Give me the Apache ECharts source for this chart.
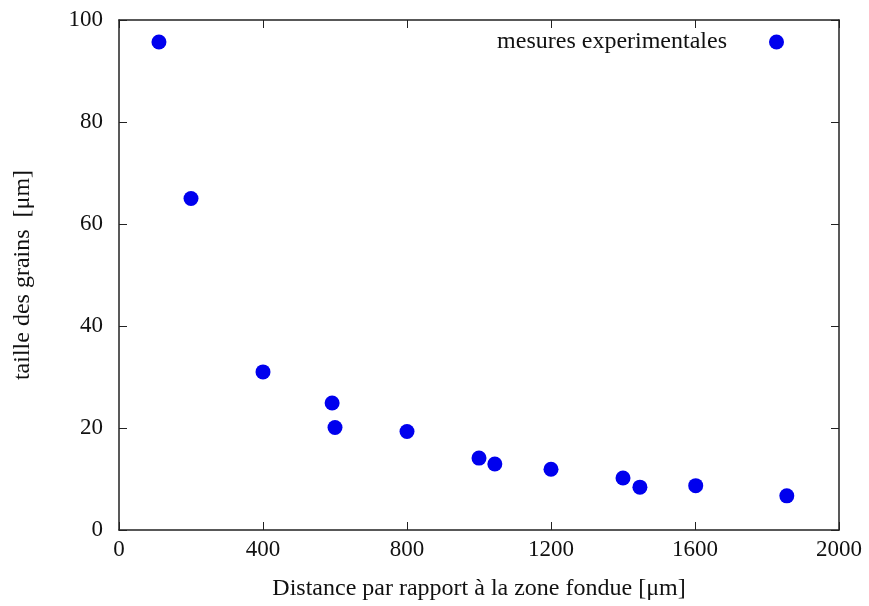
<!DOCTYPE html>
<html lang="fr">
<head>
    <meta charset="UTF-8">
    <title>taille des grains</title>
    <script src="https://cdn.jsdelivr.net/npm/echarts@6/dist/echarts.min.js"></script>
    <style>
        html, body { margin: 0; padding: 0; background: #fff; }
        #chart { width: 869px; height: 606px; }
    </style>
</head>
<body>
    <div id="chart"></div>
    <script>
        // distance a la zone fondue (um) et taille des grains (um)
        var distance = [111, 200, 400, 592, 600, 800, 1000, 1044, 1200, 1400, 1447, 1602, 1855];
        var taille   = [95.7, 65.0, 31.0, 24.9, 20.1, 19.3, 14.1, 12.95, 11.9, 10.2, 8.4, 8.7, 6.7];
        var xTicks = [0, 400, 800, 1200, 1600, 2000];
        var yTicks = [0, 20, 40, 60, 80, 100];

        var points = distance.map(function (d, i) { return [d, taille[i]]; });

        var font = "'Liberation Serif', 'DejaVu Serif', serif";
        var line = { show: true, onZero: false, lineStyle: { color: '#222', width: 1.5 } };
        var tick = { show: true, inside: true, length: 8, lineStyle: { color: '#222', width: 1 } };
        var plain = function (v) { return String(v); };

        var chart = echarts.init(document.getElementById('chart'));
        chart.setOption({
            animation: false,
            backgroundColor: '#fff',
            grid: { left: 119, right: 30, top: 20, bottom: 74 },
            legend: {
                data: ['mesures experimentales'],
                right: 80,
                top: 25,
                align: 'right',
                itemWidth: 15,
                itemHeight: 15,
                textStyle: { fontFamily: font, fontSize: 24, color: '#111', padding: [0, 37, 0, 0] }
            },
            xAxis: [{
                type: 'value', min: xTicks[0], max: xTicks[xTicks.length - 1], interval: 400,
                name: 'Distance par rapport à la zone fondue [μm]',
                nameLocation: 'middle', nameGap: 47,
                nameTextStyle: { fontFamily: font, fontSize: 24, color: '#111' },
                axisLine: line, axisTick: tick, splitLine: { show: false },
                axisLabel: { fontFamily: font, fontSize: 23, color: '#111', margin: 8, formatter: plain }
            }, {
                type: 'value', position: 'top', min: xTicks[0], max: xTicks[xTicks.length - 1], interval: 400,
                axisLine: line, axisTick: tick, splitLine: { show: false }, axisLabel: { show: false }
            }],
            yAxis: [{
                type: 'value', min: yTicks[0], max: yTicks[yTicks.length - 1], interval: 20,
                name: 'taille des grains  [μm]',
                nameLocation: 'middle', nameGap: 84,
                nameTextStyle: { fontFamily: font, fontSize: 24, color: '#111' },
                axisLine: line, axisTick: tick, splitLine: { show: false },
                axisLabel: { fontFamily: font, fontSize: 23, color: '#111', margin: 16, formatter: plain }
            }, {
                type: 'value', position: 'right', min: yTicks[0], max: yTicks[yTicks.length - 1], interval: 20,
                axisLine: line, axisTick: tick, splitLine: { show: false }, axisLabel: { show: false }
            }],
            series: [{
                name: 'mesures experimentales',
                type: 'scatter',
                data: points,
                symbol: 'circle',
                symbolSize: 15,
                itemStyle: { color: '#0000ee', opacity: 1 }
            }]
        });
    </script>
</body>
</html>
